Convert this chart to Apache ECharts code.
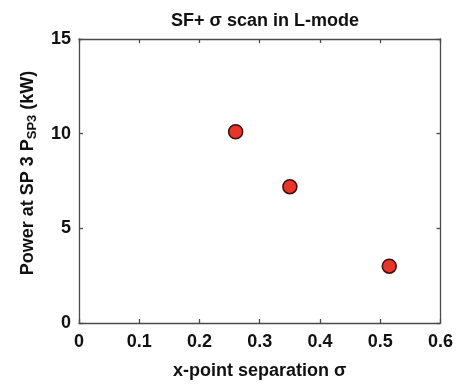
<!DOCTYPE html>
<html><head><meta charset="utf-8">
<script src="https://cdn.jsdelivr.net/npm/echarts@6/dist/echarts.min.js"></script>
<style>html,body{margin:0;padding:0;background:#fff}#c{width:456px;height:385px}</style>
</head><body><div id="c"></div>
<script>
const sigma = [0.26, 0.35, 0.515];
const power = [10.1, 7.2, 3.0];
const xTicks = [0, 0.1, 0.2, 0.3, 0.4, 0.5, 0.6];
const yTicks = [0, 5, 10, 15];

const font = 'Liberation Sans, Arial, sans-serif';
const axisCol = '#4a4a4a';
const chart = echarts.init(document.getElementById('c'));
const common = () => ({
  axisLine: {show: true, onZero: false, lineStyle: {color: axisCol, width: 1.3}},
  axisTick: {show: true, inside: true, length: 4, lineStyle: {color: axisCol, width: 1.3}},
  splitLine: {show: false}
});
chart.setOption({
  animation: false,
  title: {
    text: 'SF+ σ scan in L-mode', left: 260, top: 7, textAlign: 'center',
    textStyle: {fontFamily: font, fontSize: 18, fontWeight: 'bold', color: '#111'}
  },
  grid: {left: 79, right: 14, top: 39, bottom: 61},
  xAxis: [
    Object.assign({
      type: 'value', min: 0, max: 0.6, interval: 0.1,
      name: 'x-point separation σ', nameLocation: 'middle', nameGap: 39,
      nameTextStyle: {fontFamily: font, fontSize: 18, fontWeight: 'bold', color: '#111'},
      axisLabel: {fontFamily: font, fontSize: 18, fontWeight: 'bold', color: '#111', margin: 10,
        formatter: v => xTicks.includes(+v.toFixed(1)) ? String(+v.toFixed(1)) : ''}
    }, common()),
    Object.assign({
      type: 'value', min: 0, max: 0.6, interval: 0.1, position: 'top',
      axisLabel: {show: false}
    }, common())
  ],
  yAxis: [
    Object.assign({
      type: 'value', min: 0, max: 15, interval: 5,
      name: '{n|Power at SP 3 P}{s|SP3}{n| (kW)}', nameLocation: 'middle', nameGap: 40, nameRotate: 90,
      nameTextStyle: {
        fontFamily: font, fontSize: 18, fontWeight: 'bold', color: '#111', padding: [0, 0, 0, 16],
        rich: {
          n: {fontFamily: font, fontSize: 18, fontWeight: 'bold', color: '#111'},
          s: {fontFamily: font, fontSize: 13, fontWeight: 'bold', color: '#111', verticalAlign: 'bottom', padding: [8, 0, 0, 0]}
        }
      },
      axisLabel: {fontFamily: font, fontSize: 18, fontWeight: 'bold', color: '#111', margin: 8,
        formatter: v => yTicks.includes(v) ? String(v) : ''}
    }, common()),
    Object.assign({
      type: 'value', min: 0, max: 15, interval: 5, position: 'right',
      axisLabel: {show: false}
    }, common())
  ],
  series: [{
    type: 'scatter',
    data: sigma.map((s, i) => [s, power[i]]),
    symbol: 'circle', symbolSize: 14,
    itemStyle: {color: '#e8352a', borderColor: '#3a1010', borderWidth: 1.5, opacity: 1}
  }]
});
</script>
</body></html>
